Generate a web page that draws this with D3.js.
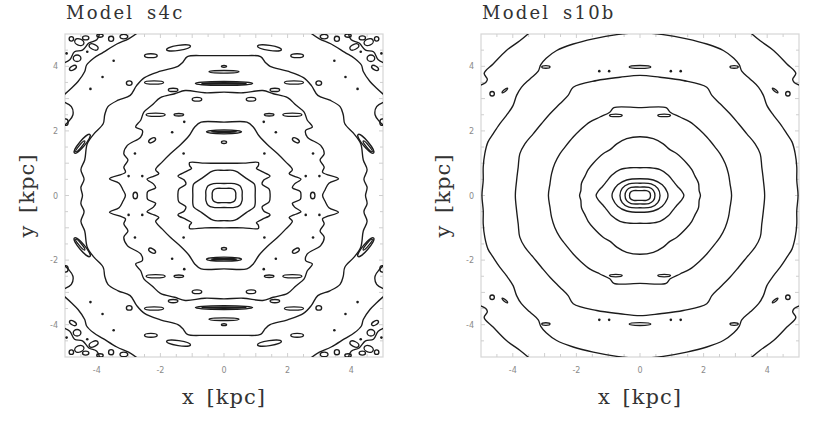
<!DOCTYPE html>
<html>
<head>
<meta charset="utf-8">
<script src="https://cdn.jsdelivr.net/npm/d3@7"></script>
<style>
  body { margin: 0; background: #fff; }
  svg { display: block; }
</style>
</head>
<body>
<svg id="chart" width="830" height="425"></svg>
<script>
// Axis range and labelled ticks (kpc)
const axisDomain = [-5, 5];
const tickValues = [-4, -2, 0, 2, 4];

// Contours are read off one quadrant (x >= 0, y >= 0), from the y axis round to the x axis,
// and mirrored into the other three quadrants (both maps are symmetric).

// ---- Model s4c ----
const s4cRings = [
    [[0, 0.22], [0.22, 0.22], [0.33, 0.17], [0.37, 0.08], [0.37, 0]],
    [[0, 0.37], [0.33, 0.37], [0.5, 0.3], [0.57, 0.15], [0.57, 0]],
    [[0, 0.78], [0.28, 0.78], [0.4, 0.74], [0.7, 0.53], [0.95, 0.36], [0.98, 0.25], [0.98, 0]],
    [[0, 1.0], [0.6, 1.0], [1.08, 1.02], [1.08, 0.92], [1.02, 0.84], [1.2, 0.74], [1.45, 0.6],
     [1.25, 0.48], [1.2, 0.35], [1.42, 0.2], [1.45, 0]],
    [[0, 2.27], [0.72, 2.27], [0.92, 2.12], [1.1, 1.85], [1.36, 1.58], [1.68, 1.3], [1.94, 1.04],
     [2.15, 0.8], [2.05, 0.68], [2.2, 0.6], [2.42, 0.5], [2.22, 0.36], [2.15, 0.24], [2.4, 0.12], [2.42, 0]],
    [[0, 3.2], [0.6, 3.18], [1.22, 3.25], [1.55, 3.15], [2.0, 3.03], [2.26, 2.8], [2.52, 2.58],
     [2.62, 2.33], [2.78, 2.12], [2.57, 2.02], [2.62, 1.81], [3.04, 1.55], [3.15, 1.29], [3.02, 1.1],
     [3.15, 0.88], [3.1, 0.72], [3.6, 0.52], [3.3, 0.38], [3.18, 0.18], [3.1, 0]],
    [[0, 4.33], [0.6, 4.33], [1.15, 4.3], [1.3, 4.12], [1.45, 4.0], [2.0, 3.85], [2.5, 3.65],
     [2.75, 3.4], [2.95, 3.1], [3.33, 2.95], [3.65, 2.75], [3.75, 2.5], [3.8, 2.22], [4.09, 1.91],
     [4.3, 1.6], [4.38, 1.1], [4.5, 0.8], [4.4, 0.5], [4.5, 0.25], [4.45, 0]]
];
const s4cOpen = [
    [[2.7, 5.05], [3.0, 4.85], [3.37, 4.69], [3.8, 4.43], [4.1, 4.25], [4.32, 4.04], [4.38, 3.84],
     [4.59, 3.53], [4.8, 3.32], [5.05, 3.1]],
    [[5.05, 2.9], [4.8, 2.75], [4.75, 2.5], [4.88, 2.3], [5.05, 2.15]],
    [[3.9, 5.05], [4.0, 4.82], [4.25, 4.72], [4.45, 4.5], [4.7, 4.45], [4.85, 4.2], [5.05, 4.1]]
];
// [x, y, rx, ry, angle]
const s4cBlobs = [
    [0, 3.83, 0.47, 0.04, 0], [0, 4.0, 0.08, 0.03, 0],
    [0, 3.47, 0.9, 0.06, 0], [0, 3.47, 0.7, 0.02, 0],
    [0, 1.97, 0.55, 0.06, 0], [0, 1.97, 0.4, 0.02, 0],
    [0, 1.65, 0.08, 0.04, 0],
    [1.43, 4.57, 0.38, 0.08, -8], [2.3, 4.33, 0.2, 0.06, 0], [2.2, 3.5, 0.3, 0.05, 0],
    [2.98, 3.48, 0.09, 0.07, 0], [1.6, 3.27, 0.15, 0.05, 0], [0.85, 2.98, 0.15, 0.06, 0],
    [1.42, 2.5, 0.15, 0.04, 0], [2.15, 2.5, 0.3, 0.05, 0], [2.26, 1.71, 0.12, 0.06, -30],
    [2.79, 0, 0.07, 0.1, 0], [4.46, 1.6, 0.38, 0.09, -50], [4.52, 1.52, 0.22, 0.04, -50],
    [4.98, 2.27, 0.08, 0.1, 0],
    [3.15, 4.92, 0.12, 0.07, 0], [3.55, 4.85, 0.08, 0.08, 0], [4.1, 4.6, 0.15, 0.08, 25],
    [4.55, 4.75, 0.15, 0.1, 20], [4.8, 4.85, 0.07, 0.07, 0], [4.62, 4.25, 0.12, 0.1, 0],
    [4.75, 3.95, 0.12, 0.06, -30], [4.35, 4.88, 0.1, 0.06, 0], [3.9, 4.95, 0.1, 0.05, 0]
];
const s4cDots = [
    [3.47, 4.17], [3.82, 3.67], [4.2, 3.3], [1.25, 2.28], [1.63, 1.96], [1.27, 1.3],
    [2.8, 1.3], [2.57, 0.6], [3.0, 0.6], [4.95, 4.4], [4.3, 4.45]
];

// ---- Model s10b ----
const s10bRings = [
    [[0, 0.15], [0.2, 0.15], [0.3, 0.1], [0.33, 0]],
    [[0, 0.26], [0.28, 0.25], [0.42, 0.16], [0.47, 0]],
    [[0, 0.38], [0.35, 0.36], [0.56, 0.22], [0.63, 0]],
    [[0, 0.52], [0.42, 0.48], [0.7, 0.33], [0.86, 0.1], [0.88, 0]],
    [[0, 0.86], [0.31, 0.86], [0.63, 0.8], [0.89, 0.63], [1.0, 0.5], [1.08, 0.4], [1.18, 0.28],
     [1.3, 0.15], [1.38, 0]],
    [[0, 1.82], [0.42, 1.76], [0.73, 1.6], [0.94, 1.42], [1.15, 1.3], [1.47, 1.0], [1.63, 0.8],
     [1.73, 0.6], [1.84, 0.38], [1.86, 0.15], [1.9, 0]],
    [[0, 2.72], [0.82, 2.72], [0.95, 2.58], [1.26, 2.43], [1.57, 2.28], [1.89, 2.02], [2.1, 1.81],
     [2.36, 1.5], [2.52, 1.29], [2.68, 0.99], [2.78, 0.68], [2.83, 0.37], [2.88, 0]],
    [[0, 3.72], [0.63, 3.66], [1.36, 3.56], [2.1, 3.35], [2.26, 3.1], [2.52, 2.84], [2.83, 2.53],
     [3.1, 2.22], [3.36, 1.91], [3.62, 1.6], [3.78, 1.29], [3.83, 0.88], [3.88, 0.47], [3.92, 0]],
    [[0, 5.04], [0.73, 4.98], [1.47, 4.85], [2.1, 4.69], [2.62, 4.49], [2.95, 4.25], [3.12, 4.05],
     [3.2, 3.85], [3.46, 3.61], [3.73, 3.35], [3.88, 3.1], [3.99, 2.79], [4.2, 2.48], [4.41, 2.22],
     [4.62, 1.91], [4.78, 1.66], [4.88, 1.3], [4.93, 0.88], [4.93, 0.47], [4.97, 0]]
];
const s10bOpen = [
    [[3.46, 5.05], [3.78, 4.79], [4.2, 4.49], [4.62, 4.07], [4.9, 3.78], [4.8, 3.6], [4.85, 3.5], [5.05, 3.4]]
];
const s10bBlobs = [
    [0, 3.98, 0.34, 0.045, 0], [2.96, 3.98, 0.13, 0.04, 0], [0.76, 2.48, 0.2, 0.04, 0],
    [4.25, 3.25, 0.11, 0.03, -40], [4.65, 3.15, 0.07, 0.07, 0]
];
const s10bDots = [[0.97, 3.85], [1.28, 3.85]];

const panels = [
    { title: 'Model s4c', left: 65, rings: s4cRings, open: s4cOpen, blobs: s4cBlobs, dots: s4cDots },
    { title: 'Model s10b', left: 481, rings: s10bRings, open: s10bOpen, blobs: s10bBlobs, dots: s10bDots }
];

const plotW = 318, plotTop = 34, plotBottom = 357;
const ink = '#1c1c1c';
const svg = d3.select('#chart');

const quadrants = [[1, 1], [1, -1], [-1, -1], [-1, 1]];

// build a closed loop from one quadrant arc
function mirrorRing(q) {
    const q4 = q.slice().reverse().slice(1).map(([x, y]) => [x, -y]);
    const q3 = q.slice(1).map(([x, y]) => [-x, -y]);
    const q2 = q.slice().reverse().slice(1, -1).map(([x, y]) => [-x, y]);
    return q.concat(q4, q3, q2);
}

function mirrorItems(items) {
    const out = [];
    items.forEach(d => {
        const seen = new Set();
        quadrants.forEach(([sx, sy]) => {
            const key = `${d[0] * sx},${d[1] * sy}`;
            if (seen.has(key)) return;
            seen.add(key);
            out.push({ d, sx, sy });
        });
    });
    return out;
}

panels.forEach((p, i) => {
    const x = d3.scaleLinear().domain(axisDomain).range([p.left, p.left + plotW]);
    const y = d3.scaleLinear().domain(axisDomain).range([plotBottom, plotTop]);
    const g = svg.append('g');

    const clipId = `clip-${i}`;
    g.append('clipPath').attr('id', clipId)
        .append('rect')
        .attr('x', x(-5)).attr('y', y(5))
        .attr('width', x(5) - x(-5)).attr('height', y(-5) - y(5));

    // frame and ticks
    g.append('rect')
        .attr('x', x(-5)).attr('y', y(5))
        .attr('width', x(5) - x(-5)).attr('height', y(-5) - y(5))
        .attr('fill', 'none').attr('stroke', '#d6d6d6').attr('stroke-width', 1.2);

    const minor = x.ticks(20).filter(t => t > -5 && t < 5);
    const tickG = g.append('g').attr('stroke', '#cfcfcf').attr('stroke-width', 1);
    minor.forEach(t => {
        const len = Number.isInteger(t) ? 4 : 3;
        tickG.append('line').attr('x1', x(t)).attr('x2', x(t)).attr('y1', y(-5)).attr('y2', y(-5) - len);
        tickG.append('line').attr('x1', x(t)).attr('x2', x(t)).attr('y1', y(5)).attr('y2', y(5) + len);
        tickG.append('line').attr('y1', y(t)).attr('y2', y(t)).attr('x1', x(-5)).attr('x2', x(-5) + len);
        tickG.append('line').attr('y1', y(t)).attr('y2', y(t)).attr('x1', x(5)).attr('x2', x(5) - len);
    });

    g.selectAll('.xtick').data(tickValues).enter().append('text')
        .attr('x', d => x(d)).attr('y', y(-5) + 16)
        .attr('text-anchor', 'middle')
        .style('font', '8px "DejaVu Sans", sans-serif').style('fill', '#8a8a8a')
        .text(d => d);
    g.selectAll('.ytick').data(tickValues).enter().append('text')
        .attr('x', x(-5) - 7).attr('y', d => y(d) + 3)
        .attr('text-anchor', 'end')
        .style('font', '8px "DejaVu Sans", sans-serif').style('fill', '#8a8a8a')
        .text(d => d);

    // contours
    const c = g.append('g').attr('clip-path', `url(#${clipId})`)
        .attr('fill', 'none').attr('stroke', ink).attr('stroke-width', 1.35)
        .attr('stroke-linejoin', 'round');

    const closed = d3.line().x(d => x(d[0])).y(d => y(d[1])).curve(d3.curveCatmullRomClosed.alpha(0.5));
    const open = d3.line().x(d => x(d[0])).y(d => y(d[1])).curve(d3.curveCatmullRom.alpha(0.5));

    c.selectAll('.ring').data(p.rings).enter().append('path')
        .attr('d', d => closed(mirrorRing(d)));

    p.open.forEach(line => {
        quadrants.forEach(([sx, sy]) => {
            c.append('path').attr('d', open(line.map(([a, b]) => [a * sx, b * sy])));
        });
    });

    c.selectAll('.blob').data(mirrorItems(p.blobs)).enter().append('ellipse')
        .attr('cx', e => x(e.d[0] * e.sx)).attr('cy', e => y(e.d[1] * e.sy))
        .attr('rx', e => Math.abs(x(e.d[2]) - x(0)))
        .attr('ry', e => Math.abs(y(e.d[3]) - y(0)))
        .attr('transform', e => `rotate(${-e.d[4] * e.sx * e.sy} ${x(e.d[0] * e.sx)} ${y(e.d[1] * e.sy)})`);

    c.selectAll('.dot').data(mirrorItems(p.dots)).enter().append('circle')
        .attr('cx', e => x(e.d[0] * e.sx)).attr('cy', e => y(e.d[1] * e.sy))
        .attr('r', 1.3).attr('fill', ink).attr('stroke', 'none');

    // titles and axis labels
    g.append('text')
        .attr('x', p.left + 1).attr('y', 19)
        .style('font', '18px "DejaVu Serif", serif').style('fill', '#333')
        .style('letter-spacing', '2.2px').style('word-spacing', '5px')
        .text(p.title);

    g.append('text')
        .attr('x', x(0)).attr('y', 404)
        .attr('text-anchor', 'middle')
        .style('font', '21px "DejaVu Serif", serif').style('fill', '#333')
        .style('letter-spacing', '1px').style('word-spacing', '4px')
        .text('x [kpc]');

    g.append('text')
        .attr('transform', `translate(${p.left - 31},${y(0)}) rotate(-90)`)
        .attr('text-anchor', 'middle')
        .style('font', '21px "DejaVu Serif", serif').style('fill', '#333')
        .style('letter-spacing', '1px').style('word-spacing', '4px')
        .text('y [kpc]');
});
</script>
</body>
</html>
